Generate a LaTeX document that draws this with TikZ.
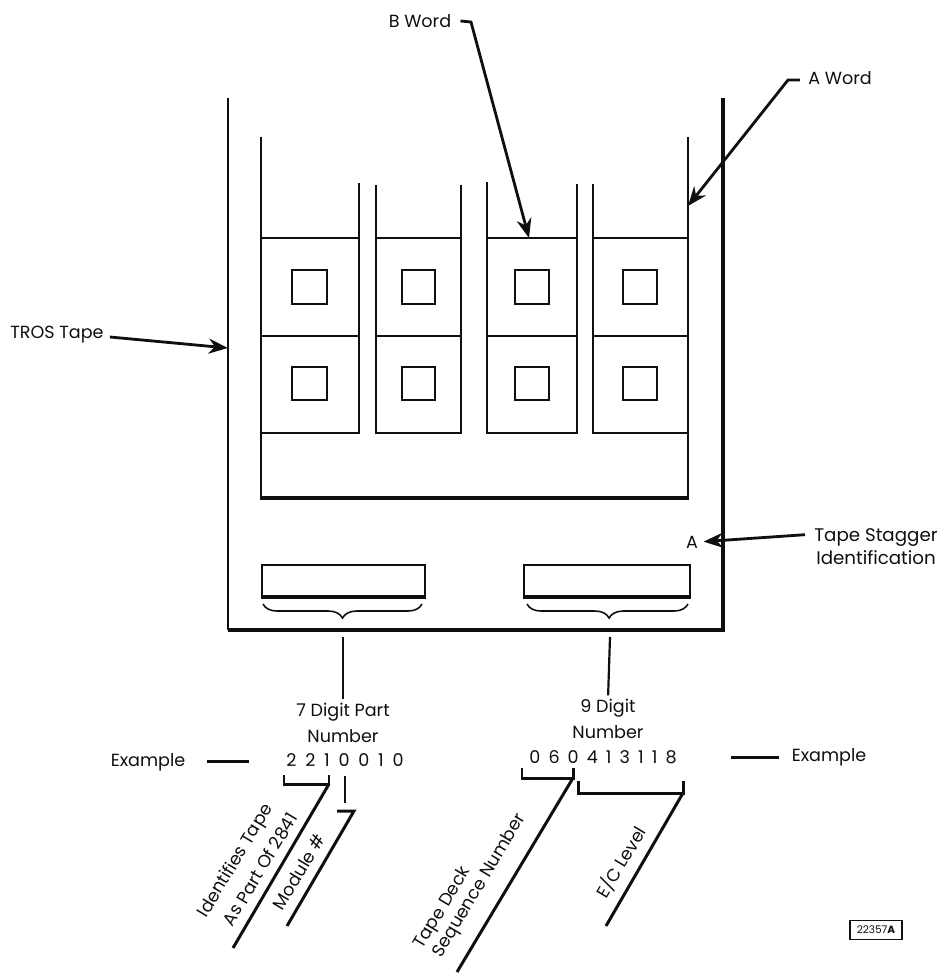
\documentclass[tikz,border=0pt]{standalone}
\usepackage{fontspec}
\setmainfont{Poppins}
\usepackage{tikz}
\usetikzlibrary{
arrows.meta,
decorations.pathreplacing
}
\definecolor{tapeink}{RGB}{15,15,15}
\newcommand{\digitgap}[1]{\spaceskip=#1\relax}
\tikzset{
  tapelabel/.style={font=\fontsize{10}{14.8}\selectfont, text=tapeink, inner sep=0pt, align=center},
  slantlabel/.style={tapelabel, rotate=59},
  digitrow/.style={font=\fontsize{10}{11}\selectfont, text=tapeink, inner sep=0pt},
  thinline/.style={draw=tapeink, line width=1.25pt},
  heavyline/.style={draw=tapeink, line width=1.8pt},
  leader/.style={draw=tapeink, line width=1.7pt},
  bracemark/.style={draw=tapeink, line width=0.9pt, decorate, decoration={brace, mirror, amplitude=8pt, aspect=#1}},
  pointer/.style={draw=tapeink, line width=1.6pt, -{Stealth[length=11pt, width=8.5pt]}}
}

\begin{document}
\begin{tikzpicture}[x=0.02cm, y=-0.02cm, line join=miter]
\useasboundingbox (0,0) rectangle (945,977);

%% Tape outline
\draw[thinline] (228,98) -- (228,630);
\draw[heavyline] (228,630) -- (723,630) -- (723,98);

%% Word columns
\foreach \l/\r/\tl/\tr in {261/359/137/183, 376/461/185/185, 487/577/182/184, 593/688/184/137} {
  \draw[thinline] (\l,\tl) -- (\l,433) -- (\r,433) -- (\r,\tr);
  \draw[thinline] (\l,238) -- (\r,238);
  \draw[thinline] (\l,336) -- (\r,336);
}

%% Holes
\foreach \x/\w in {292/35, 402/33, 515/34, 623/34} {
  \draw[thinline] (\x,270) rectangle ++(\w,34);
  \draw[thinline] (\x,367) rectangle ++(\w,33);
}

%% Bottom panel
\draw[thinline] (261,433) -- (261,498);
\draw[thinline] (688,433) -- (688,498);
\draw[heavyline] (260,498) -- (689,498);

%% Number boxes
\draw[thinline] (262,597) -- (262,565) -- (425,565) -- (425,597);
\draw[heavyline] (261,597) -- (426,597);
\draw[thinline] (524,597) -- (524,565) -- (690,565) -- (690,597);
\draw[heavyline] (523,597) -- (691,597);

%% Braces
\coordinate (partbraceL) at (263,604);
\coordinate (partbraceR) at (422,604);
\coordinate (numbraceL) at (527,604);
\coordinate (numbraceR) at (688,604);
\draw[bracemark=0.5] (partbraceL) -- (partbraceR);
\draw[bracemark=0.51] (numbraceL) -- (numbraceR);

%% Pointer labels
\node[tapelabel] (bword) at (420,21) {B Word};
\node[tapelabel] (aword) at (840,78) {A Word};
\node[tapelabel] (trostape) at (57,335) {TROS Tape};
\node[tapelabel, font=\fontsize{10.4}{13}\selectfont] (stagger) at (876,547) {Tape Stagger\\Identification};
\node[tapelabel] (staggerA) at (692,542) {A};

\coordinate (bhook) at (471,22);
\coordinate (btip) at (529,238);
\coordinate (ahook) at (788,80);
\coordinate (atip) at (688,206);
\coordinate (trostip) at (228,348);

\draw[pointer] (bword.east) ++(9,0) -- (bhook) -- (btip);
\draw[pointer] (aword.west) ++(-8,2) -- (ahook) -- (atip);
\draw[pointer] (trostape.east) ++(6,2) -- (trostip);
\draw[pointer, shorten >=3pt] (stagger.north west) ++(-9,6) -- (staggerA.east);

%% Part number
\node[tapelabel] (partlabel) at (343,723) {7 Digit Part\\Number};
\node[digitrow] (partdigits) at (345,760) {\digitgap{5pt}2 2 1 0 0 1 0};
\node[tapelabel] (partexample) at (148,762) {Example};
\coordinate (partstem) at (343,637);
\coordinate (partdashL) at (207,761);
\coordinate (partdashR) at (249,761);
\draw[thinline, shorten >=2pt] (partstem) -- (partlabel.north);
\draw[leader] (partdashL) -- (partdashR);

%% Sequence number
\node[tapelabel] (numlabel) at (608,719) {9 Digit\\Number};
\node[digitrow] (numdigits) at (603,757) {\digitgap{4.6pt}0 6 0 4 1 3 1 1 8};
\node[tapelabel] (numexample) at (829,757) {Example};
\coordinate (numstem) at (610,637);
\coordinate (numdashL) at (731,757);
\coordinate (numdashR) at (779,757);
\draw[thinline, shorten >=2pt] (numstem) -- (numlabel.north);
\draw[leader] (numdashL) -- (numdashR);

%% Part number leaders
\coordinate (tapeA) at (284,775);
\coordinate (tapeB) at (284,784);
\coordinate (tapeC) at (329,784);
\coordinate (tapeD) at (329,775);
\coordinate (tapeEnd) at (233,948);
\draw[leader] (tapeA) -- (tapeB) -- (tapeC) -- (tapeD);
\draw[leader] (tapeC) -- (tapeEnd);
\coordinate (modA) at (345,776);
\coordinate (modB) at (345,803);
\coordinate (modC) at (337,811);
\coordinate (modD) at (354,811);
\coordinate (modEnd) at (287,926);
\draw[leader] (modA) -- (modB);
\draw[leader] (modC) -- (modD) -- (modEnd);

%% Sequence number leaders
\coordinate (deckA) at (522,768);
\coordinate (deckB) at (522,778);
\coordinate (deckC) at (573,778);
\coordinate (deckD) at (573,768);
\coordinate (deckEnd) at (457,972);
\draw[leader] (deckA) -- (deckB) -- (deckC) -- (deckD);
\draw[leader] (deckC) -- (deckEnd);
\coordinate (levelA) at (578,781);
\coordinate (levelB) at (578,793);
\coordinate (levelC) at (683,793);
\coordinate (levelD) at (683,781);
\coordinate (levelEnd) at (606,926);
\draw[leader] (levelA) -- (levelB) -- (levelC) -- (levelD);
\draw[leader] (levelC) -- (levelEnd);

%% Slanted texts
\node[slantlabel] (identifies) at (236,861) {Identifies Tape};
\node[slantlabel] (aspart) at (260,869) {As Part Of 2841};
\node[slantlabel] (module) at (299,872) {Module \#};
\node[slantlabel] (tapedeck) at (443,908) {Tape Deck};
\node[slantlabel] (sequence) at (480,886) {Sequence Number};
\node[slantlabel] (eclevel) at (621,862) {E/C Level};

%% Stamp
\node[draw=tapeink, line width=0.9pt, inner sep=0pt, minimum width=1.04cm, minimum height=0.38cm,
      font=\fontsize{6}{7}\selectfont, text=tapeink] (stamp) at (876,930) {22357\textbf{A}};

\end{tikzpicture}
\end{document}
